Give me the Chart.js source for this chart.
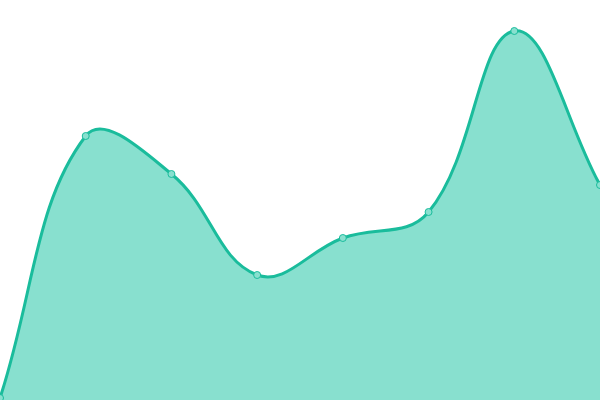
<!DOCTYPE html>
<html>
<head>
<meta charset="utf-8">
<script src="https://cdn.jsdelivr.net/npm/chart.js@4"></script>
<style>
  html, body { margin: 0; padding: 0; background: #fff; }
  #wrap { width: 600px; height: 400px; }
</style>
</head>
<body>
<div id="wrap"><canvas id="areaChart"></canvas></div>
<script>
const labels = ['Jan', 'Feb', 'Mar', 'Apr', 'May', 'Jun', 'Jul', 'Aug'];
const values = [0.5, 66, 56.5, 31.25, 40.5, 47, 92.25, 53.75];

const areaChartCtx = document.getElementById('areaChart').getContext('2d');

const areaChart = new Chart(areaChartCtx, {
    type: 'line',
    data: {
        labels: labels,
        datasets: [{
            data: values,
            fill: true,
            tension: 0.4,
            borderColor: '#1abc9c',
            borderWidth: 3,
            backgroundColor: '#88e0cf',
            pointRadius: 3.5,
            pointBorderWidth: 1,
            pointBackgroundColor: '#88e0cf',
            pointBorderColor: '#1abc9c'
        }]
    },
    options: {
        responsive: true,
        maintainAspectRatio: false,
        animation: false,
        layout: { padding: 0, autoPadding: false },
        plugins: {
            legend: { display: false },
            tooltip: { enabled: false }
        },
        scales: {
            x: { display: false, offset: false },
            y: { display: false, min: 0, max: 100 }
        }
    }
});
</script>
</body>
</html>
